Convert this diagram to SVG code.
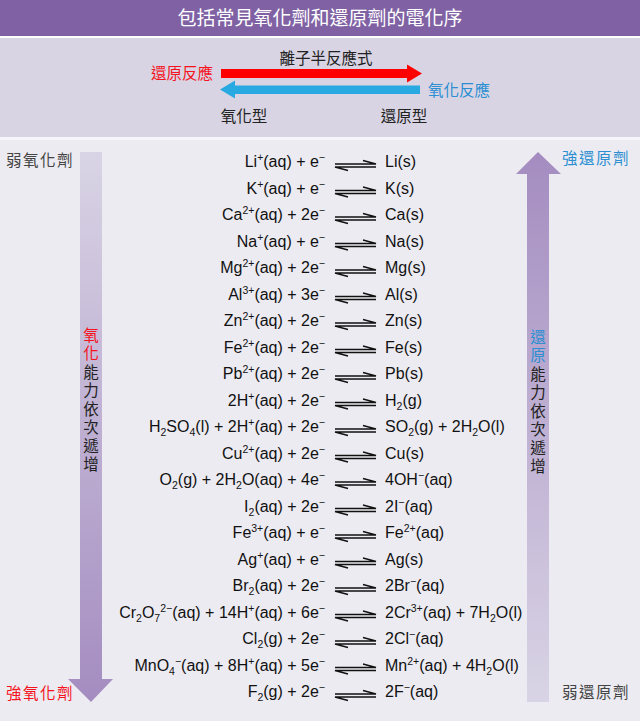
<svg xmlns="http://www.w3.org/2000/svg" width="640" height="721" viewBox="0 0 640 721">
<defs>
<style>
.cjk{font-family:"Noto Sans CJK TC","Noto Sans CJK SC",sans-serif;font-size:15.5px;fill:#222}
.eq{font-family:"Liberation Sans",Arial,sans-serif;font-size:16px;fill:#111}
.l{text-anchor:end}
.s{font-size:10.5px}
.red{fill:#f5141e}
.blue{fill:#2b8fd2}
.gray{fill:#444}
.vt{writing-mode:vertical-rl;letter-spacing:3px}
</style>
<linearGradient id="gL" x1="0" y1="152" x2="0" y2="702" gradientUnits="userSpaceOnUse">
<stop offset="0" stop-color="#d9d4e5"/><stop offset="1" stop-color="#a48cc0"/>
</linearGradient>
<linearGradient id="gR" x1="0" y1="152" x2="0" y2="702" gradientUnits="userSpaceOnUse">
<stop offset="0" stop-color="#a48cc0"/><stop offset="1" stop-color="#d9d4e5"/>
</linearGradient>
<g id="eqarrow" stroke="#111" stroke-width="1.4" fill="none">
<path d="M335 -1.5 H376 L363 -5"/>
<path d="M376 1.5 H335 L348 5"/>
</g>
</defs>
<rect x="0" y="0" width="640" height="721" fill="#ecebf1"/>
<g id="header">
<rect x="0" y="0" width="640" height="36" fill="#8062a4"/>
<rect x="0" y="36" width="640" height="2" fill="#ffffff"/>
<text x="320" y="25" text-anchor="middle" style="font-family:'Noto Sans CJK TC','Noto Sans CJK SC',sans-serif;font-size:19px;fill:#ffffff">包括常見氧化劑和還原劑的電化序</text>
</g>
<g id="legend">
<rect x="0" y="38" width="640" height="99" fill="#d8d4e3"/>
<rect x="0" y="137" width="640" height="3" fill="#f6f5f9"/>
<text x="326" y="64" class="cjk" text-anchor="middle">離子半反應式</text>
<polygon points="221,69 407,69 407,64.5 422,73.5 407,82.5 407,78 221,78" fill="#ff0000"/>
<polygon points="420,85.5 235,85.5 235,80.5 220,89.5 235,98.5 235,94 420,94" fill="#29a9e1"/>
<text x="213" y="79" class="cjk red" text-anchor="end">還原反應</text>
<text x="428" y="96" class="cjk blue">氧化反應</text>
<text x="244" y="122" class="cjk" text-anchor="middle">氧化型</text>
<text x="404" y="122" class="cjk" text-anchor="middle">還原型</text>
</g>
<g id="left-arrow">
<polygon points="80,152 102,152 102,679 113,679 91,702 68,679 80,679" fill="url(#gL)"/>
<text x="6" y="166" class="cjk gray" style="letter-spacing:1.5px">弱氧化劑</text>
<text x="6" y="699" class="cjk red" style="letter-spacing:1.5px">強氧化劑</text>
<text class="cjk vt" x="91" y="327"><tspan class="red">氧化</tspan>能力依次遞增</text>
</g>
<g id="right-arrow">
<polygon points="538,152 561,174 549,174 549,702 527,702 527,174 516,174" fill="url(#gR)"/>
<text x="562" y="164" class="cjk blue" style="letter-spacing:1.5px">強還原劑</text>
<text x="562" y="698" class="cjk gray" style="letter-spacing:1.5px">弱還原劑</text>
<text class="cjk vt" x="538" y="329"><tspan class="blue">還原</tspan>能力依次遞增</text>
</g>
<g id="connectors">
<use href="#eqarrow" y="165.5"/>
<use href="#eqarrow" y="192"/>
<use href="#eqarrow" y="218.5"/>
<use href="#eqarrow" y="245"/>
<use href="#eqarrow" y="271.5"/>
<use href="#eqarrow" y="298"/>
<use href="#eqarrow" y="324.5"/>
<use href="#eqarrow" y="351"/>
<use href="#eqarrow" y="377.5"/>
<use href="#eqarrow" y="404"/>
<use href="#eqarrow" y="430.5"/>
<use href="#eqarrow" y="457"/>
<use href="#eqarrow" y="483.5"/>
<use href="#eqarrow" y="510"/>
<use href="#eqarrow" y="536.5"/>
<use href="#eqarrow" y="563"/>
<use href="#eqarrow" y="589.5"/>
<use href="#eqarrow" y="616"/>
<use href="#eqarrow" y="642.5"/>
<use href="#eqarrow" y="669"/>
<use href="#eqarrow" y="695.5"/>
</g>
<g id="equations">
<g id="r0"><text class="eq l" x="325" y="167">Li<tspan class="s" dy="-6">+</tspan><tspan dy="6">(aq) + e</tspan><tspan class="s" dy="-6">−</tspan></text><text class="eq" x="385" y="167">Li(s)</text></g>
<g id="r1"><text class="eq l" x="325" y="193.5">K<tspan class="s" dy="-6">+</tspan><tspan dy="6">(aq) + e</tspan><tspan class="s" dy="-6">−</tspan></text><text class="eq" x="385" y="193.5">K(s)</text></g>
<g id="r2"><text class="eq l" x="325" y="220">Ca<tspan class="s" dy="-6">2+</tspan><tspan dy="6">(aq) + 2e</tspan><tspan class="s" dy="-6">−</tspan></text><text class="eq" x="385" y="220">Ca(s)</text></g>
<g id="r3"><text class="eq l" x="325" y="246.5">Na<tspan class="s" dy="-6">+</tspan><tspan dy="6">(aq) + e</tspan><tspan class="s" dy="-6">−</tspan></text><text class="eq" x="385" y="246.5">Na(s)</text></g>
<g id="r4"><text class="eq l" x="325" y="273">Mg<tspan class="s" dy="-6">2+</tspan><tspan dy="6">(aq) + 2e</tspan><tspan class="s" dy="-6">−</tspan></text><text class="eq" x="385" y="273">Mg(s)</text></g>
<g id="r5"><text class="eq l" x="325" y="299.5">Al<tspan class="s" dy="-6">3+</tspan><tspan dy="6">(aq) + 3e</tspan><tspan class="s" dy="-6">−</tspan></text><text class="eq" x="385" y="299.5">Al(s)</text></g>
<g id="r6"><text class="eq l" x="325" y="326">Zn<tspan class="s" dy="-6">2+</tspan><tspan dy="6">(aq) + 2e</tspan><tspan class="s" dy="-6">−</tspan></text><text class="eq" x="385" y="326">Zn(s)</text></g>
<g id="r7"><text class="eq l" x="325" y="352.5">Fe<tspan class="s" dy="-6">2+</tspan><tspan dy="6">(aq) + 2e</tspan><tspan class="s" dy="-6">−</tspan></text><text class="eq" x="385" y="352.5">Fe(s)</text></g>
<g id="r8"><text class="eq l" x="325" y="379">Pb<tspan class="s" dy="-6">2+</tspan><tspan dy="6">(aq) + 2e</tspan><tspan class="s" dy="-6">−</tspan></text><text class="eq" x="385" y="379">Pb(s)</text></g>
<g id="r9"><text class="eq l" x="325" y="405.5">2H<tspan class="s" dy="-6">+</tspan><tspan dy="6">(aq) + 2e</tspan><tspan class="s" dy="-6">−</tspan></text><text class="eq" x="385" y="405.5">H<tspan class="s" dy="4">2</tspan><tspan dy="-4">(g)</tspan></text></g>
<g id="r10"><text class="eq l" x="325" y="432">H<tspan class="s" dy="4">2</tspan><tspan dy="-4">SO</tspan><tspan class="s" dy="4">4</tspan><tspan dy="-4">(l) + 2H</tspan><tspan class="s" dy="-6">+</tspan><tspan dy="6">(aq) + 2e</tspan><tspan class="s" dy="-6">−</tspan></text><text class="eq" x="385" y="432">SO<tspan class="s" dy="4">2</tspan><tspan dy="-4">(g) + 2H</tspan><tspan class="s" dy="4">2</tspan><tspan dy="-4">O(l)</tspan></text></g>
<g id="r11"><text class="eq l" x="325" y="458.5">Cu<tspan class="s" dy="-6">2+</tspan><tspan dy="6">(aq) + 2e</tspan><tspan class="s" dy="-6">−</tspan></text><text class="eq" x="385" y="458.5">Cu(s)</text></g>
<g id="r12"><text class="eq l" x="325" y="485">O<tspan class="s" dy="4">2</tspan><tspan dy="-4">(g) + 2H</tspan><tspan class="s" dy="4">2</tspan><tspan dy="-4">O(aq) + 4e</tspan><tspan class="s" dy="-6">−</tspan></text><text class="eq" x="385" y="485">4OH<tspan class="s" dy="-6">−</tspan><tspan dy="6">(aq)</tspan></text></g>
<g id="r13"><text class="eq l" x="325" y="511.5">I<tspan class="s" dy="4">2</tspan><tspan dy="-4">(aq) + 2e</tspan><tspan class="s" dy="-6">−</tspan></text><text class="eq" x="385" y="511.5">2I<tspan class="s" dy="-6">−</tspan><tspan dy="6">(aq)</tspan></text></g>
<g id="r14"><text class="eq l" x="325" y="538">Fe<tspan class="s" dy="-6">3+</tspan><tspan dy="6">(aq) + e</tspan><tspan class="s" dy="-6">−</tspan></text><text class="eq" x="385" y="538">Fe<tspan class="s" dy="-6">2+</tspan><tspan dy="6">(aq)</tspan></text></g>
<g id="r15"><text class="eq l" x="325" y="564.5">Ag<tspan class="s" dy="-6">+</tspan><tspan dy="6">(aq) + e</tspan><tspan class="s" dy="-6">−</tspan></text><text class="eq" x="385" y="564.5">Ag(s)</text></g>
<g id="r16"><text class="eq l" x="325" y="591">Br<tspan class="s" dy="4">2</tspan><tspan dy="-4">(aq) + 2e</tspan><tspan class="s" dy="-6">−</tspan></text><text class="eq" x="385" y="591">2Br<tspan class="s" dy="-6">−</tspan><tspan dy="6">(aq)</tspan></text></g>
<g id="r17"><text class="eq l" x="325" y="617.5">Cr<tspan class="s" dy="4">2</tspan><tspan dy="-4">O</tspan><tspan class="s" dy="4">7</tspan><tspan class="s" dy="-10">2−</tspan><tspan dy="6">(aq) + 14H</tspan><tspan class="s" dy="-6">+</tspan><tspan dy="6">(aq) + 6e</tspan><tspan class="s" dy="-6">−</tspan></text><text class="eq" x="385" y="617.5">2Cr<tspan class="s" dy="-6">3+</tspan><tspan dy="6">(aq) + 7H</tspan><tspan class="s" dy="4">2</tspan><tspan dy="-4">O(l)</tspan></text></g>
<g id="r18"><text class="eq l" x="325" y="644">Cl<tspan class="s" dy="4">2</tspan><tspan dy="-4">(g) + 2e</tspan><tspan class="s" dy="-6">−</tspan></text><text class="eq" x="385" y="644">2Cl<tspan class="s" dy="-6">−</tspan><tspan dy="6">(aq)</tspan></text></g>
<g id="r19"><text class="eq l" x="325" y="670.5">MnO<tspan class="s" dy="4">4</tspan><tspan class="s" dy="-10">−</tspan><tspan dy="6">(aq) + 8H</tspan><tspan class="s" dy="-6">+</tspan><tspan dy="6">(aq) + 5e</tspan><tspan class="s" dy="-6">−</tspan></text><text class="eq" x="385" y="670.5">Mn<tspan class="s" dy="-6">2+</tspan><tspan dy="6">(aq) + 4H</tspan><tspan class="s" dy="4">2</tspan><tspan dy="-4">O(l)</tspan></text></g>
<g id="r20"><text class="eq l" x="325" y="697">F<tspan class="s" dy="4">2</tspan><tspan dy="-4">(g) + 2e</tspan><tspan class="s" dy="-6">−</tspan></text><text class="eq" x="385" y="697">2F<tspan class="s" dy="-6">−</tspan><tspan dy="6">(aq)</tspan></text></g>
</g>
</svg>
